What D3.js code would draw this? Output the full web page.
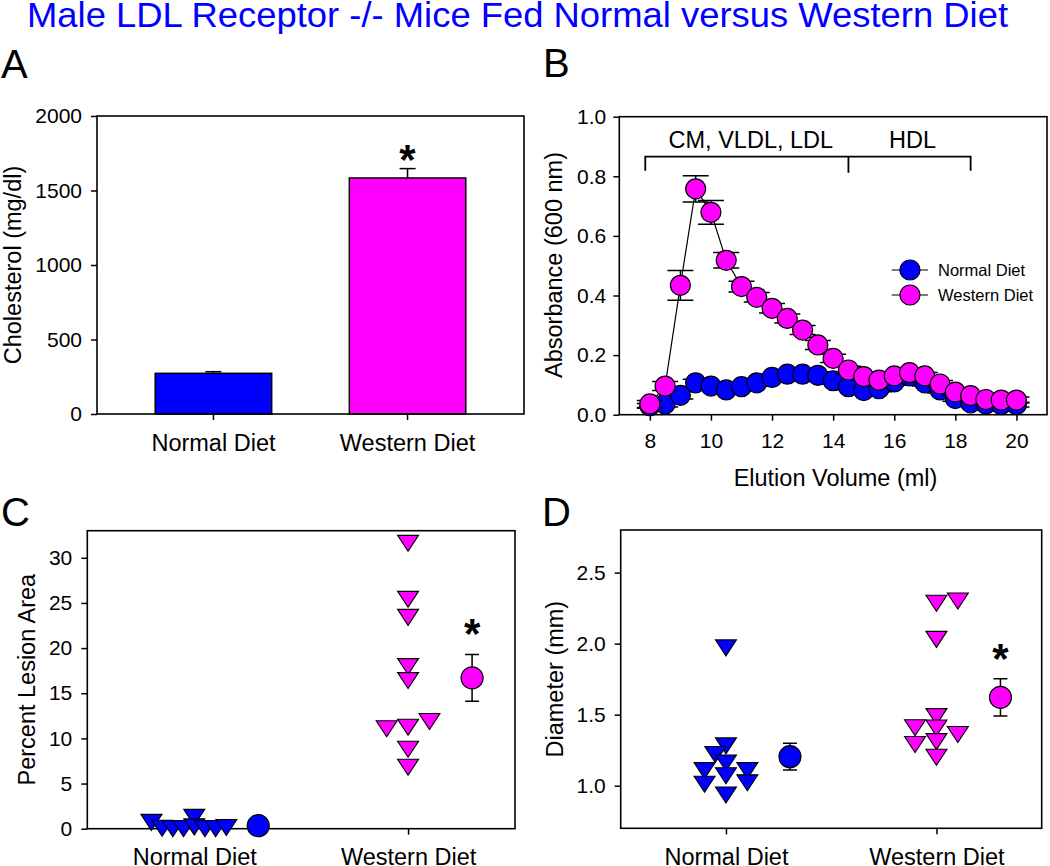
<!DOCTYPE html>
<html>
<head>
<meta charset="utf-8">
<script src="https://cdn.jsdelivr.net/npm/d3@7"></script>
<style>
  body { margin: 0; background: #fff; }
  svg { display: block; font-family: "Liberation Sans", Arial, sans-serif; }
</style>
</head>
<body>
<div class="container"></div>
<script>
const diets = ["Normal Diet", "Western Diet"];
const dietColors = ["#0000ff", "#ff00ff"];

// A - plasma cholesterol (mean, sem)
const cholesterolMean = [273, 1584];
const cholesterolSem = [11, 63];

// B - FPLC lipoprotein profile
const elution = [8, 8.5, 9, 9.5, 10, 10.5, 11, 11.5, 12, 12.5, 13, 13.5, 14, 14.5, 15, 15.5, 16, 16.5, 17, 17.5, 18, 18.5, 19, 19.5, 20];
const absNormal = [0.03, 0.036, 0.065, 0.107, 0.096, 0.083, 0.094, 0.107, 0.125, 0.136, 0.136, 0.132, 0.114, 0.094, 0.081, 0.087, 0.11, 0.13, 0.107, 0.083, 0.054, 0.04, 0.036, 0.034, 0.034];
const absNormalSem = [0.008, 0.01, 0.012, 0.012, 0.01, 0.01, 0.01, 0.011, 0.011, 0.012, 0.012, 0.012, 0.011, 0.01, 0.01, 0.01, 0.011, 0.011, 0.011, 0.01, 0.009, 0.008, 0.008, 0.008, 0.008];
const absWestern = [0.036, 0.096, 0.434, 0.758, 0.679, 0.518, 0.43, 0.394, 0.357, 0.323, 0.284, 0.234, 0.189, 0.15, 0.128, 0.116, 0.13, 0.141, 0.13, 0.103, 0.076, 0.064, 0.051, 0.049, 0.049];
const absWesternSem = [0.012, 0.015, 0.05, 0.044, 0.04, 0.026, 0.018, 0.016, 0.016, 0.015, 0.015, 0.015, 0.014, 0.013, 0.012, 0.012, 0.012, 0.012, 0.012, 0.012, 0.011, 0.01, 0.01, 0.01, 0.01];
const fractions = ["CM, VLDL, LDL", "HDL"];
const fractionEdges = [7.85, 14.5, 18.5];

// C - percent lesion area, individual mice + mean/sem
const lesionNormal = [0.7, 0.05, 0, 0, 1.25, 0.2, 0, 0, 0.13];
const lesionNormalSlot = [-4, -3, -2, -1, 0, 0, 1, 2, 3];
const lesionWestern = [31.6, 25.4, 23.4, 17.95, 16.4, 11.06, 11.24, 11.87, 8.8, 6.8];
const lesionWesternSlot = [0, 0, 0, 0, 0, -2, 0, 2, 0, 0];
const lesionMean = [0.33, 16.7];
const lesionSem = [0.15, 2.6];

// D - aortic diameter
const diameterNormal = [1.97, 1.28, 1.22, 1.16, 1.106, 1.106, 1.07, 1.01, 1.02, 0.934];
const diameterNormalSlot = [0, 0, -1, 0, -2, 2, 0, -2, 2, 0];
const diameterWestern = [2.284, 2.3, 2.03, 1.486, 1.408, 1.406, 1.36, 1.29, 1.31, 1.2];
const diameterWesternSlot = [0, 2, 0, 0, -2, 0, 2, -2, 0, 0];
const diameterMean = [1.204, 1.622];
const diameterSem = [0.094, 0.131];

const tickFont = 21;
const titleFont = 23.5;

const svg = d3.select(".container")
  .append("svg")
  .attr("width", 1050)
  .attr("height", 866);

svg.append("text")
  .attr("x", 517.5)
  .attr("y", 27)
  .attr("text-anchor", "middle")
  .attr("fill", "#0000ff")
  .attr("font-size", 35)
  .attr("textLength", 981)
  .attr("lengthAdjust", "spacingAndGlyphs")
  .text("Male LDL Receptor -/- Mice Fed Normal versus Western Diet");

//panel letters
[["A", 1, 77.5], ["B", 543, 76.5], ["C", 1, 525.5], ["D", 542, 526]].forEach(([t, x, y]) => {
  svg.append("text").attr("x", x).attr("y", y).attr("font-size", 40).text(t);
});

svg.append("g").call(panelA);
svg.append("g").call(panelB);
svg.append("g").call(scatterPanel, {
  xRange: [87.3, 515],
  yDomain: [0, 33],
  yRange: [828.7, 530.7],
  yTicks: [0, 5, 10, 15, 20, 25, 30],
  yFormat: d3.format("d"),
  yTitle: "Percent Lesion Area",
  yTitleX: 34.5,
  groups: [
    { vals: lesionNormal, slots: lesionNormalSlot },
    { vals: lesionWestern, slots: lesionWesternSlot },
  ],
  mean: lesionMean,
  sem: lesionSem,
});
svg.append("g").call(scatterPanel, {
  xRange: [620.7, 1041.7],
  yDomain: [0.7, 2.8],
  yRange: [828.3, 530],
  yTicks: [1.0, 1.5, 2.0, 2.5],
  yFormat: d3.format(".1f"),
  yTitle: "Diameter (mm)",
  yTitleX: 563,
  groups: [
    { vals: diameterNormal, slots: diameterNormalSlot },
    { vals: diameterWestern, slots: diameterWesternSlot },
  ],
  mean: diameterMean,
  sem: diameterSem,
});

function styleAxis(g) {
  g.select(".domain").remove();
  g.selectAll("line").attr("stroke", "#000").attr("stroke-width", 1.5);
  g.selectAll("text")
    .attr("fill", "#000")
    .attr("font-size", tickFont)
    .attr("font-family", "Liberation Sans, Arial, sans-serif");
}

function box(g, x0, x1, y0, y1) {
  g.append("rect")
    .attr("x", x0)
    .attr("y", y1)
    .attr("width", x1 - x0)
    .attr("height", y0 - y1)
    .attr("fill", "none")
    .attr("stroke", "#000")
    .attr("stroke-width", 1.6);
}

function yTitle(g, text, x, y) {
  g.append("text")
    .attr("transform", `translate(${x},${y}) rotate(-90)`)
    .attr("text-anchor", "middle")
    .attr("font-size", titleFont)
    .text(text);
}

function asterisk(g, x, y) {
  g.append("text")
    .attr("x", x)
    .attr("y", y)
    .attr("text-anchor", "middle")
    .attr("font-size", 42)
    .attr("font-weight", "bold")
    .text("*");
}

function panelA(g) {
  const x = d3.scaleBand().domain(diets).range([97, 524]).paddingInner(0.4).paddingOuter(0.3);
  const y = d3.scaleLinear().domain([0, 2000]).range([414, 116]);

  g.append("g")
    .attr("transform", "translate(97,0)")
    .call(d3.axisLeft(y).tickValues([0, 500, 1000, 1500, 2000]).tickFormat(d3.format("d")).tickSize(6).tickPadding(9))
    .call(styleAxis);

  g.append("g")
    .attr("transform", "translate(0,414)")
    .call(d3.axisBottom(x).tickSize(6))
    .call(styleAxis)
    .call((a) => a.selectAll("text").attr("dy", null).attr("y", 37).attr("font-size", titleFont));

  const data = diets.map((d, i) => ({ name: d, mean: cholesterolMean[i], sem: cholesterolSem[i], color: dietColors[i] }));

  // error bars (upper only)
  g.selectAll("line.err")
    .data(data)
    .join("line")
    .attr("class", "err")
    .attr("x1", (d) => x(d.name) + x.bandwidth() / 2)
    .attr("x2", (d) => x(d.name) + x.bandwidth() / 2)
    .attr("y1", (d) => y(d.mean))
    .attr("y2", (d) => y(d.mean + d.sem))
    .attr("stroke", "#000")
    .attr("stroke-width", 1.5);
  g.selectAll("line.cap")
    .data(data)
    .join("line")
    .attr("class", "cap")
    .attr("x1", (d) => x(d.name) + x.bandwidth() / 2 - 8)
    .attr("x2", (d) => x(d.name) + x.bandwidth() / 2 + 8)
    .attr("y1", (d) => y(d.mean + d.sem))
    .attr("y2", (d) => y(d.mean + d.sem))
    .attr("stroke", "#000")
    .attr("stroke-width", 1.5);

  g.selectAll("rect.bar")
    .data(data)
    .join("rect")
    .attr("class", "bar")
    .attr("x", (d) => x(d.name))
    .attr("width", x.bandwidth())
    .attr("y", (d) => y(d.mean))
    .attr("height", (d) => y(0) - y(d.mean))
    .attr("fill", (d) => d.color)
    .attr("stroke", "#000")
    .attr("stroke-width", 1.5);

  box(g, 97, 524, 414, 116);
  yTitle(g, "Cholesterol (mg/dl)", 21, 265);
  asterisk(g, x(diets[1]) + x.bandwidth() / 2, y(cholesterolMean[1] + cholesterolSem[1]) + 5);
}

function panelB(g) {
  const x = d3.scaleLinear().domain([7, 21]).range([619.3, 1047]);
  const y = d3.scaleLinear().domain([0, 1]).range([414.7, 116.7]);
  const r = 10;

  g.append("g")
    .attr("transform", "translate(619.3,0)")
    .call(d3.axisLeft(y).tickValues([0, 0.2, 0.4, 0.6, 0.8, 1.0]).tickFormat(d3.format(".1f")).tickSize(6).tickPadding(7))
    .call(styleAxis);
  g.append("g")
    .attr("transform", "translate(0,414.7)")
    .call(d3.axisBottom(x).tickValues([8, 10, 12, 14, 16, 18, 20]).tickSize(6))
    .call(styleAxis)
    .call((a) => a.selectAll("text").attr("dy", null).attr("y", 33.6));

  box(g, 619.3, 1047, 414.7, 116.7);

  // fraction brackets
  const by = 156.7;
  g.append("path")
    .attr("d", `M${x(fractionEdges[0])},${by + 14}V${by}H${x(fractionEdges[2])}V${by + 14}M${x(fractionEdges[1])},${by}V${by + 16}`)
    .attr("fill", "none")
    .attr("stroke", "#000")
    .attr("stroke-width", 1.8);
  g.selectAll("text.frac")
    .data(fractions)
    .join("text")
    .attr("class", "frac")
    .attr("x", (d, i) => (x(fractionEdges[i]) + x(fractionEdges[i + 1])) / 2 + (i == 0 ? 4 : 3))
    .attr("y", 148.3)
    .attr("text-anchor", "middle")
    .attr("font-size", titleFont)
    .text((d) => d);

  const series = [
    { vals: absNormal, sem: absNormalSem, color: dietColors[0] },
    { vals: absWestern, sem: absWesternSem, color: dietColors[1] },
  ];
  const line = d3.line().x((d) => x(d[0])).y((d) => y(d[1]));

  series.forEach((s) => {
    const pts = elution.map((v, i) => [v, s.vals[i], s.sem[i]]);
    const gs = g.append("g");
    gs.append("path")
      .attr("d", line(pts))
      .attr("fill", "none")
      .attr("stroke", "#000")
      .attr("stroke-width", 1.2);
    gs.selectAll("path.err")
      .data(pts)
      .join("path")
      .attr("class", "err")
      .attr("d", (d) => {
        const cx = x(d[0]), lo = y(d[1] - d[2]), hi = y(d[1] + d[2]);
        return `M${cx},${lo}V${hi}M${cx - 13},${hi}H${cx + 13}M${cx - 13},${lo}H${cx + 13}`;
      })
      .attr("fill", "none")
      .attr("stroke", "#000")
      .attr("stroke-width", 1.5);
    gs.selectAll("circle")
      .data(pts)
      .join("circle")
      .attr("cx", (d) => x(d[0]))
      .attr("cy", (d) => y(d[1]))
      .attr("r", r)
      .attr("fill", s.color)
      .attr("stroke", "#000")
      .attr("stroke-width", 1.2);
  });

  //legend
  const lg = g.append("g").attr("transform", "translate(910,270)");
  const items = lg.selectAll("g").data(diets).join("g").attr("transform", (d, i) => `translate(0,${i * 25})`);
  items.append("line").attr("x1", -18.3).attr("x2", 18).attr("stroke", "#000").attr("stroke-width", 1.2);
  items.append("circle").attr("r", r).attr("fill", (d, i) => dietColors[i]).attr("stroke", "#000").attr("stroke-width", 1.2);
  items.append("text").attr("x", 28).attr("y", 6).attr("font-size", 16.5).text((d) => d);

  yTitle(g, "Absorbance (600 nm)", 561.5, 265);
  g.append("text")
    .attr("x", 835.5)
    .attr("y", 486)
    .attr("text-anchor", "middle")
    .attr("font-size", titleFont)
    .text("Elution Volume (ml)");
}

function scatterPanel(g, o) {
  const x = d3.scalePoint().domain(diets).range(o.xRange).padding(0.5);
  const y = d3.scaleLinear().domain(o.yDomain).range(o.yRange);
  const slot = d3.scaleLinear().domain([0, 1]).range([0, 10.7]);
  const meanShift = 64;
  const tri = "M-10.5,-8L10.5,-8L0,8Z";

  g.append("g")
    .attr("transform", `translate(${o.xRange[0]},0)`)
    .call(d3.axisLeft(y).tickValues(o.yTicks).tickFormat(o.yFormat).tickSize(6).tickPadding(9))
    .call(styleAxis);
  g.append("g")
    .attr("transform", `translate(0,${o.yRange[0]})`)
    .call(d3.axisBottom(x).tickSize(6))
    .call(styleAxis)
    .call((a) => a.selectAll("text").attr("dy", null).attr("y", 36.5).attr("font-size", titleFont));

  box(g, o.xRange[0], o.xRange[1], o.yRange[0], o.yRange[1]);

  o.groups.forEach((grp, gi) => {
    const pts = grp.vals.map((v, i) => ({ v, s: grp.slots[i] }));
    g.append("g")
      .selectAll("path")
      .data(pts)
      .join("path")
      .attr("d", tri)
      .attr("transform", (d) => `translate(${x(diets[gi]) + slot(d.s)},${y(d.v)})`)
      .attr("fill", dietColors[gi])
      .attr("stroke", "#000")
      .attr("stroke-width", 1.1);
  });

  const means = diets.map((d, i) => ({ cx: x(d) + meanShift, m: o.mean[i], s: o.sem[i], color: dietColors[i] }));
  g.selectAll("path.err")
    .data(means)
    .join("path")
    .attr("class", "err")
    .attr("d", (d) => {
      const lo = y(d.m - d.s), hi = y(d.m + d.s);
      return `M${d.cx},${lo}V${hi}M${d.cx - 7},${hi}H${d.cx + 7}M${d.cx - 7},${lo}H${d.cx + 7}`;
    })
    .attr("fill", "none")
    .attr("stroke", "#000")
    .attr("stroke-width", 1.5);
  g.selectAll("circle")
    .data(means)
    .join("circle")
    .attr("cx", (d) => d.cx)
    .attr("cy", (d) => y(d.m))
    .attr("r", 11)
    .attr("fill", (d) => d.color)
    .attr("stroke", "#000")
    .attr("stroke-width", 1.2);

  asterisk(g, means[1].cx, y(means[1].m + means[1].s) - 6);
  yTitle(g, o.yTitle, o.yTitleX, (o.yRange[0] + o.yRange[1]) / 2 + 0);
}
</script>
</body>
</html>
